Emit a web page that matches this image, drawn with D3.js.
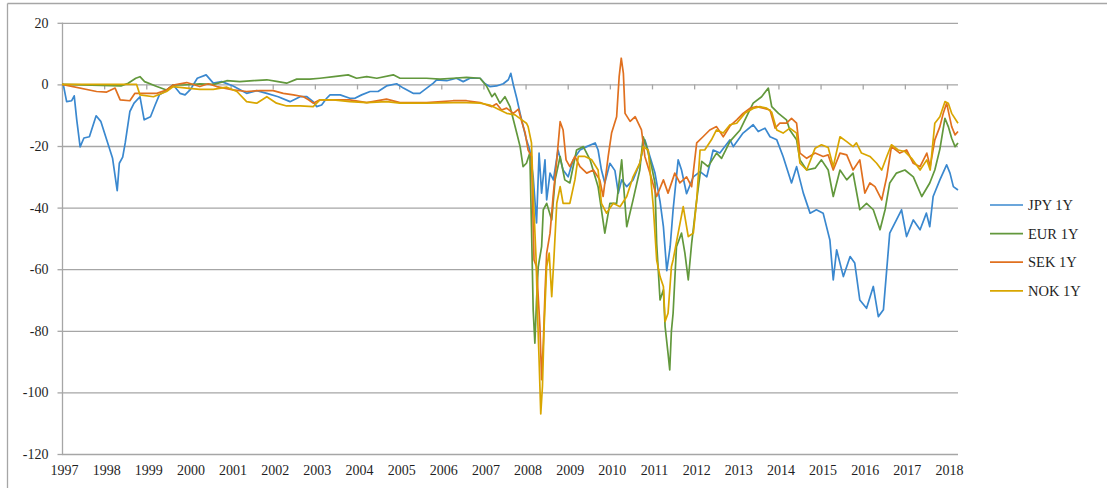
<!DOCTYPE html>
<html>
<head>
<meta charset="utf-8">
<script src="https://cdn.jsdelivr.net/npm/d3@7"></script>
<style>
  body { margin: 0; background: #fff; }
  svg { display: block; }
  text { font-family: "Liberation Serif", "DejaVu Serif", serif; fill: #1f1f1f; }
</style>
</head>
<body>
<svg id="chart" width="1107" height="488"></svg>
<script>
// x = position in years along the axis, y = basis points
var yearLabels = d3.range(1997, 2019);
var yTicks = [20, 0, -20, -40, -60, -80, -100, -120];

var jpy = [[1997.00,0],[1997.03,0],[1997.11,-5.6],[1997.23,-5.3],[1997.29,-3.7],[1997.35,-11.5],[1997.43,-20.3],[1997.52,-17.4],[1997.65,-17],[1997.81,-10.2],[1997.92,-12],[1998.06,-18],[1998.20,-24],[1998.31,-34.5],[1998.36,-25.6],[1998.44,-23.6],[1998.50,-19],[1998.61,-8.8],[1998.71,-6.1],[1998.85,-4],[1998.95,-11.5],[1999.10,-10.5],[1999.21,-6.7],[1999.31,-3.4],[1999.48,-2],[1999.64,-0.2],[1999.80,-2.9],[1999.92,-3.4],[2000.05,-1.6],[2000.21,2],[2000.42,3.1],[2000.59,0.4],[2000.79,0.9],[2001.06,-0.5],[2001.38,-2.9],[2001.62,-2],[2001.86,-2.9],[2002.13,-4],[2002.41,-5.6],[2002.65,-4],[2002.81,-4],[2002.96,-5.6],[2003.04,-7.2],[2003.16,-6.7],[2003.28,-4.5],[2003.36,-3.4],[2003.60,-3.4],[2003.83,-4.5],[2003.95,-4.5],[2004.11,-3.4],[2004.31,-2.3],[2004.50,-2.3],[2004.70,-0.5],[2004.94,0.2],[2005.10,-1.2],[2005.33,-2.9],[2005.49,-2.9],[2005.81,0.4],[2005.89,1.5],[2006.13,1.2],[2006.36,2],[2006.52,0.9],[2006.68,2],[2006.92,2],[2007.04,0.2],[2007.15,-0.7],[2007.31,-0.5],[2007.47,0.2],[2007.59,1.5],[2007.65,3.6],[2007.71,-0.2],[2007.79,-4.5],[2007.87,-9.4],[2008.02,-18],[2008.10,-21.3],[2008.18,-30],[2008.26,-45],[2008.32,-22.3],[2008.38,-35.3],[2008.46,-24.5],[2008.50,-37.5],[2008.58,-28.8],[2008.66,-31],[2008.77,-21.3],[2008.89,-27.8],[2009.01,-30],[2009.13,-24.5],[2009.29,-21.3],[2009.45,-20.2],[2009.65,-19],[2009.72,-21.3],[2009.80,-27.8],[2009.88,-32],[2010.00,-25.6],[2010.12,-28],[2010.20,-35.3],[2010.28,-31],[2010.40,-33.2],[2010.55,-31],[2010.71,-25.6],[2010.83,-18],[2010.95,-23.4],[2011.07,-28.8],[2011.19,-38],[2011.27,-46.2],[2011.35,-60.5],[2011.43,-52.7],[2011.50,-40.7],[2011.62,-24.5],[2011.70,-27.8],[2011.82,-35.5],[2011.98,-30],[2012.14,-28.3],[2012.30,-30],[2012.45,-21.3],[2012.61,-22.3],[2012.85,-18],[2012.93,-20.2],[2013.16,-15.8],[2013.40,-13.1],[2013.52,-15.3],[2013.68,-14.2],[2013.80,-17],[2013.96,-18],[2014.11,-23.4],[2014.31,-32],[2014.43,-26.7],[2014.59,-35.3],[2014.75,-41.8],[2014.90,-40.7],[2015.06,-41.8],[2015.22,-50.5],[2015.30,-63.5],[2015.38,-53.7],[2015.54,-62.4],[2015.70,-55.9],[2015.81,-58],[2015.93,-70],[2016.09,-72.7],[2016.25,-65.6],[2016.37,-75.4],[2016.49,-73.2],[2016.64,-48.3],[2016.80,-44],[2016.92,-40.7],[2017.04,-49.4],[2017.20,-44],[2017.36,-47.2],[2017.51,-41.8],[2017.59,-46.2],[2017.67,-36.4],[2017.83,-31],[2017.99,-26.1],[2018.07,-28.8],[2018.15,-33.2],[2018.26,-34.3]];

var eur = [[1997.00,0],[1998.40,-0.5],[1998.57,0.4],[1998.75,2],[1998.85,2.5],[1998.96,0.9],[1999.25,-0.7],[1999.48,-1.8],[1999.64,-0.2],[1999.88,-0.2],[2000.27,0.2],[2000.60,0],[2000.91,1.2],[2001.22,0.9],[2001.54,1.2],[2001.86,1.5],[2002.09,1],[2002.33,0.4],[2002.57,1.7],[2002.88,1.7],[2003.12,2],[2003.45,2.5],[2003.79,3.1],[2003.99,2],[2004.23,2.5],[2004.47,2],[2004.86,3.1],[2005.02,2],[2005.33,2],[2005.65,2],[2005.97,1.7],[2006.28,2],[2006.60,2.3],[2006.92,2],[2007.08,-0.7],[2007.20,-4],[2007.27,-2.9],[2007.39,-6.1],[2007.51,-4],[2007.63,-7.2],[2007.71,-11.5],[2007.79,-15.8],[2007.87,-20.2],[2007.94,-26.7],[2008.02,-25.6],[2008.10,-22.3],[2008.14,-46.2],[2008.18,-73.2],[2008.22,-84],[2008.26,-70],[2008.30,-59.2],[2008.38,-52.7],[2008.42,-40.7],[2008.50,-38.6],[2008.62,-44],[2008.70,-31],[2008.82,-23.4],[2008.93,-31],[2009.05,-32],[2009.21,-21.3],[2009.37,-20.2],[2009.53,-24.5],[2009.72,-33.2],[2009.88,-48.3],[2010.00,-38.6],[2010.16,-38.6],[2010.28,-24.5],[2010.40,-46.2],[2010.55,-37.5],[2010.71,-27.8],[2010.79,-17],[2010.87,-20.2],[2010.99,-26.7],[2011.07,-32],[2011.11,-51.6],[2011.19,-70],[2011.27,-66.7],[2011.31,-78.6],[2011.38,-87.3],[2011.42,-92.7],[2011.46,-80],[2011.50,-74.3],[2011.58,-52.7],[2011.70,-48.3],[2011.78,-54.8],[2011.86,-63.5],[2011.94,-51.6],[2012.06,-37.5],[2012.18,-25],[2012.33,-26.7],[2012.53,-22.3],[2012.65,-24],[2012.85,-18.5],[2013.09,-14.8],[2013.28,-9.4],[2013.40,-6.1],[2013.60,-4],[2013.76,-1.2],[2013.84,-7.2],[2014.00,-9.4],[2014.19,-11.5],[2014.27,-14.8],[2014.43,-18],[2014.51,-24.5],[2014.67,-27.8],[2014.87,-27.2],[2015.02,-24.5],[2015.18,-27.8],[2015.30,-36.4],[2015.46,-27.8],[2015.62,-31],[2015.77,-28.8],[2015.93,-40.7],[2016.09,-38.6],[2016.25,-40.7],[2016.41,-47.2],[2016.53,-40.7],[2016.64,-32],[2016.80,-28.8],[2017.00,-27.8],[2017.20,-30],[2017.40,-36.4],[2017.59,-32],[2017.71,-27.8],[2017.83,-21],[2017.95,-11],[2018.03,-13.7],[2018.11,-17.5],[2018.19,-20.2],[2018.26,-19]];

var sek = [[1997.00,0],[1997.82,-2.3],[1998.06,-2.5],[1998.26,-1.2],[1998.38,-5],[1998.61,-5.3],[1998.73,-2.9],[1998.93,-2.9],[1999.25,-2.9],[1999.48,-1.8],[1999.64,-0.2],[1999.96,0.6],[2000.27,-0.7],[2000.47,0.2],[2000.67,-0.7],[2001.06,-1.8],[2001.38,-2.3],[2001.70,-2],[2002.01,-2],[2002.25,-2.9],[2002.49,-3.4],[2002.73,-4],[2002.85,-5],[2002.96,-6.1],[2003.12,-5],[2003.44,-5],[2003.83,-5],[2004.23,-5.9],[2004.70,-4.8],[2005.02,-5.9],[2005.65,-5.9],[2006.28,-5.3],[2006.60,-5.3],[2006.92,-5.9],[2007.08,-6.7],[2007.20,-7.2],[2007.31,-6.3],[2007.43,-8.3],[2007.55,-7.7],[2007.71,-9.4],[2007.83,-8],[2007.91,-12.1],[2007.99,-15.8],[2008.06,-21.3],[2008.14,-23.4],[2008.20,-57],[2008.26,-59.2],[2008.34,-78.6],[2008.38,-95.9],[2008.42,-84],[2008.46,-67.8],[2008.50,-54.8],[2008.58,-48.3],[2008.66,-35.3],[2008.74,-24.5],[2008.82,-12.1],[2008.89,-14.8],[2008.96,-24.5],[2009.05,-26.7],[2009.17,-23.4],[2009.29,-26.7],[2009.45,-28.8],[2009.61,-27.8],[2009.76,-31],[2009.84,-36.4],[2009.96,-23.4],[2010.04,-15.8],[2010.16,-10.5],[2010.22,2.5],[2010.27,8.5],[2010.32,3.6],[2010.36,-9.4],[2010.48,-12],[2010.60,-10.5],[2010.75,-14.8],[2010.83,-23.4],[2010.95,-28.8],[2011.11,-36.4],[2011.27,-31],[2011.38,-35.3],[2011.54,-28.8],[2011.66,-32],[2011.82,-30],[2011.94,-33.2],[2012.06,-19],[2012.21,-17],[2012.37,-14.8],[2012.53,-13.7],[2012.69,-17],[2012.85,-13.5],[2013.01,-11.5],[2013.16,-9.4],[2013.32,-7.8],[2013.48,-7.2],[2013.64,-7.7],[2013.80,-8.3],[2013.92,-14.2],[2014.03,-12.6],[2014.19,-12.6],[2014.31,-11],[2014.43,-12.6],[2014.51,-22.3],[2014.67,-24],[2014.87,-22.3],[2015.06,-23.4],[2015.18,-22.9],[2015.30,-27.8],[2015.46,-22.3],[2015.62,-22.9],[2015.77,-27.8],[2015.93,-24.5],[2016.05,-35.3],[2016.17,-32],[2016.29,-33.2],[2016.45,-37.5],[2016.57,-30],[2016.68,-20.2],[2016.88,-22.3],[2017.04,-21.3],[2017.20,-25.6],[2017.36,-26.7],[2017.52,-22.3],[2017.60,-26.7],[2017.71,-18],[2017.83,-13.7],[2017.91,-9.4],[2017.99,-6.1],[2018.11,-13.7],[2018.19,-16.4],[2018.26,-15.3]];

var nok = [[1997.00,0],[1998.77,0],[1998.85,-3.4],[1999.17,-4],[1999.48,-2.3],[1999.64,-0.7],[1999.96,-1.2],[2000.27,-1.6],[2000.59,-1.6],[2000.91,-0.9],[2001.15,-2.3],[2001.38,-5.6],[2001.62,-6.1],[2001.86,-4],[2002.09,-6.1],[2002.33,-7],[2002.65,-7],[2002.96,-7.2],[2003.12,-5],[2003.44,-5],[2003.83,-5.6],[2004.23,-5.9],[2004.70,-5.6],[2005.02,-6.1],[2005.65,-6.1],[2006.28,-5.9],[2006.60,-5.9],[2006.92,-6.1],[2007.15,-6.7],[2007.39,-8.3],[2007.55,-9.4],[2007.75,-9.9],[2007.91,-11.5],[2008.02,-12.6],[2008.06,-13.7],[2008.14,-19],[2008.18,-35.3],[2008.25,-57],[2008.28,-73.2],[2008.32,-89.4],[2008.36,-107],[2008.40,-98],[2008.44,-78.6],[2008.50,-59.2],[2008.56,-54.8],[2008.62,-68.9],[2008.67,-57],[2008.74,-38.6],[2008.82,-33.2],[2008.89,-38.6],[2009.05,-38.6],[2009.17,-31],[2009.25,-23.4],[2009.41,-23.4],[2009.57,-24.5],[2009.72,-27.8],[2009.80,-38.6],[2009.92,-41.8],[2010.08,-38.6],[2010.24,-39.7],[2010.40,-36.4],[2010.55,-30],[2010.71,-25.6],[2010.79,-20.2],[2010.91,-21.3],[2011.03,-39.7],[2011.11,-57],[2011.19,-62.4],[2011.27,-65.6],[2011.31,-77],[2011.38,-74.3],[2011.46,-59.2],[2011.50,-57],[2011.62,-48.3],[2011.74,-39.7],[2011.86,-49.4],[2011.98,-48.3],[2012.06,-37.5],[2012.14,-21.3],[2012.25,-21.3],[2012.41,-18],[2012.53,-14.8],[2012.69,-15.8],[2012.85,-13.1],[2013.01,-12.6],[2013.20,-9.4],[2013.40,-7.8],[2013.56,-7.2],[2013.72,-7.7],[2013.84,-9],[2013.96,-14.8],[2014.11,-15.8],[2014.27,-14.2],[2014.43,-15.8],[2014.51,-25.6],[2014.67,-27.8],[2014.87,-20.7],[2015.02,-19.6],[2015.18,-20.5],[2015.30,-26.7],[2015.46,-17],[2015.62,-18.6],[2015.77,-20.2],[2015.85,-19],[2015.97,-22.3],[2016.17,-23.4],[2016.33,-25.6],[2016.45,-27.8],[2016.57,-23.4],[2016.68,-19.6],[2016.84,-21.3],[2017.00,-21.8],[2017.16,-24],[2017.36,-27.8],[2017.52,-24.5],[2017.60,-27.8],[2017.71,-12.6],[2017.83,-10.5],[2017.95,-5.6],[2018.03,-6.1],[2018.11,-9.4],[2018.26,-12.6]];

var seriesNames = ["JPY 1Y", "EUR 1Y", "SEK 1Y", "NOK 1Y"];
var seriesColors = ["#3a88cf", "#62983c", "#e0701f", "#d9a600"];
var seriesData = [jpy, eur, sek, nok];

var svg = d3.select("#chart");

// outer frame (only top and left edge are visible in the picture)
svg.append("line").attr("x1", 7.5).attr("y1", 3.5).attr("x2", 1107).attr("y2", 3.5)
  .attr("stroke", "#a6a6a6").attr("stroke-width", 1.3);
svg.append("line").attr("x1", 7.5).attr("y1", 3.5).attr("x2", 7.5).attr("y2", 488)
  .attr("stroke", "#a6a6a6").attr("stroke-width", 1.3);

var x = d3.scaleLinear().domain([1997, 2018.26]).range([62, 958]);
var y = d3.scaleLinear().domain([-120, 20]).range([454, 22.8]);

// horizontal grid
svg.append("g")
  .attr("transform", "translate(62,0)")
  .call(d3.axisLeft(y).tickValues(yTicks).tickSize(-(958 - 62)).tickFormat(""))
  .call(g => g.select(".domain").remove())
  .selectAll(".tick line")
  .attr("stroke", "#a6a6a6")
  .attr("stroke-width", 1.3);

// y axis, small outer ticks + labels (plain hyphen like the original)
var yAxis = svg.append("g")
  .attr("transform", "translate(62.5,0)")
  .call(d3.axisLeft(y).tickValues(yTicks).tickSize(5).tickPadding(9).tickFormat(d => String(d)));
yAxis.select(".domain").attr("stroke", "#a6a6a6").attr("stroke-width", 1.3)
  .attr("d", "M0," + y(20) + "V" + y(-120));
yAxis.selectAll(".tick line").attr("stroke", "#a6a6a6").attr("stroke-width", 1.3);
yAxis.selectAll(".tick text")
  .style("font-family", "Liberation Serif, DejaVu Serif, serif")
  .style("font-size", "14px").style("fill", "#1f1f1f");

// horizontal axis crosses at 0: tick marks only
var xTickPos = d3.scaleLinear().domain([1997, 2018]).range([62, 947]);
svg.append("g")
  .attr("transform", "translate(0," + y(0) + ")")
  .call(d3.axisBottom(xTickPos).tickValues(yearLabels).tickSize(5).tickFormat(""))
  .call(g => g.select(".domain").remove())
  .selectAll(".tick line")
  .attr("stroke", "#a6a6a6").attr("stroke-width", 1.3);

// year labels below the plot
svg.append("g")
  .attr("transform", "translate(2," + y(-120) + ")")
  .call(d3.axisBottom(xTickPos).tickValues(yearLabels).tickSize(0).tickPadding(11).tickFormat(d => String(d)))
  .call(g => g.select(".domain").remove())
  .selectAll("text")
  .style("font-family", "Liberation Serif, DejaVu Serif, serif")
  .style("font-size", "14px").style("fill", "#1f1f1f");

// series
var line = d3.line().x(d => x(d[0])).y(d => y(d[1]));
seriesData.forEach(function(data, i) {
  svg.append("path")
    .datum(data)
    .attr("d", line)
    .attr("fill", "none")
    .attr("stroke", seriesColors[i])
    .attr("stroke-width", 1.7)
    .attr("stroke-linejoin", "round");
});

// legend
var legend = svg.append("g").attr("transform", "translate(990,205)");
seriesNames.forEach(function(name, i) {
  var g = legend.append("g").attr("transform", "translate(0," + (i * 28.6) + ")");
  g.append("line").attr("x1", 0).attr("x2", 33).attr("y1", 0).attr("y2", 0)
    .attr("stroke", seriesColors[i]).attr("stroke-width", 1.7);
  g.append("text").attr("x", 38).attr("y", 0).attr("dy", "0.35em")
    .style("font-size", "14.5px").text(name);
});
</script>
</body>
</html>
